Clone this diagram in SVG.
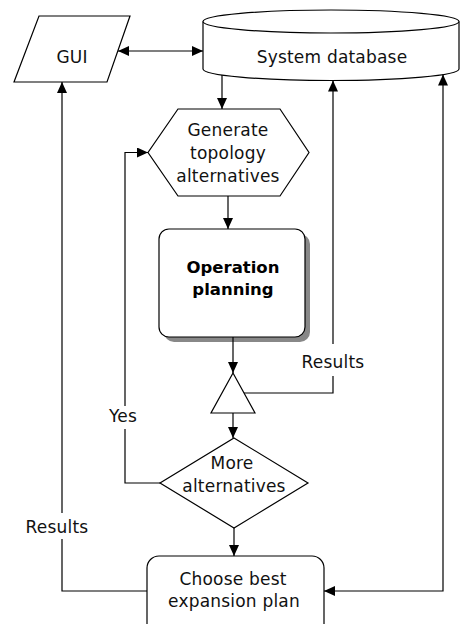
<svg xmlns="http://www.w3.org/2000/svg" width="460" height="624" viewBox="0 0 460 624">
<style>
.s{fill:#fff;stroke:#000;stroke-width:1.2}
.t{font-family:"DejaVu Sans",sans-serif;font-size:17px;letter-spacing:0.2px;fill:#111;text-anchor:middle}
.b{font-family:"DejaVu Sans",sans-serif;font-size:16.5px;font-weight:bold;fill:#000;text-anchor:middle}
.c{fill:none;stroke:#000;stroke-width:1.2}
</style>
<defs>
<marker id="a" markerUnits="userSpaceOnUse" markerWidth="12" markerHeight="11" refX="11" refY="5" orient="auto-start-reverse"><path d="M0,0 L11,5 L0,10 z" fill="#000"/></marker>
</defs>
<rect width="460" height="624" fill="#fff"/>
<g id="gui"><path class="s" d="M39,16 H130 L107,82 H14 z"/><text class="t" x="72" y="63">GUI</text></g>
<g id="db"><path class="s" d="M203,21.5 V69 A128,11.5 0 0 0 459,69 V21.5"/><ellipse class="s" cx="331" cy="21.5" rx="128" ry="11.5"/><text class="t" x="332" y="63">System database</text></g>
<g id="gen"><path class="s" d="M178,109 H280 L309,152.5 L280,196 H178 L148,152.5 z"/><text class="t" x="228" y="136">Generate</text><text class="t" x="228" y="159">topology</text><text class="t" x="228" y="182">alternatives</text></g>
<g id="op"><rect x="164" y="234" width="146" height="108" rx="10" fill="#888"/><rect class="s" x="159" y="229" width="146" height="108" rx="10"/><text class="b" x="233" y="273">Operation</text><text class="b" x="233" y="295">planning</text></g>
<g id="merge"><path class="s" d="M233,373 L255,413 H211 z"/></g>
<g id="more"><path class="s" d="M234,438 L308,483 L234,528 L160,483 z"/><text class="t" x="232" y="469">More</text><text class="t" x="234" y="492">alternatives</text></g>
<g id="choose"><rect class="s" x="147" y="556" width="177" height="80" rx="12"/><text class="t" x="233" y="585">Choose best</text><text class="t" x="234" y="607">expansion plan</text></g>
<g id="connectors">
<path class="c" d="M118,51 H203" marker-start="url(#a)" marker-end="url(#a)"/>
<path class="c" d="M222,75 V109" marker-end="url(#a)"/>
<path class="c" d="M228,196 V229" marker-end="url(#a)"/>
<path class="c" d="M233,337 V373" marker-end="url(#a)"/>
<path class="c" d="M233,413 V438" marker-end="url(#a)"/>
<path class="c" d="M244,393 H333 V80.5" marker-end="url(#a)"/>
<path class="c" d="M160,483 H125 V152.5 H148" marker-end="url(#a)"/>
<path class="c" d="M234,528 V556" marker-end="url(#a)"/>
<path class="c" d="M147,591 H62 V82" marker-end="url(#a)"/>
<path class="c" d="M324,591 H443 V74.6" marker-start="url(#a)" marker-end="url(#a)"/>
<rect x="296" y="344" width="74" height="32" fill="#fff"/><text class="t" x="333" y="368">Results</text>
<rect x="105" y="406" width="38" height="23" fill="#fff"/><text class="t" x="123" y="422">Yes</text>
<rect x="20" y="513" width="74" height="26" fill="#fff"/><text class="t" x="57" y="533">Results</text>
</g>
</svg>
